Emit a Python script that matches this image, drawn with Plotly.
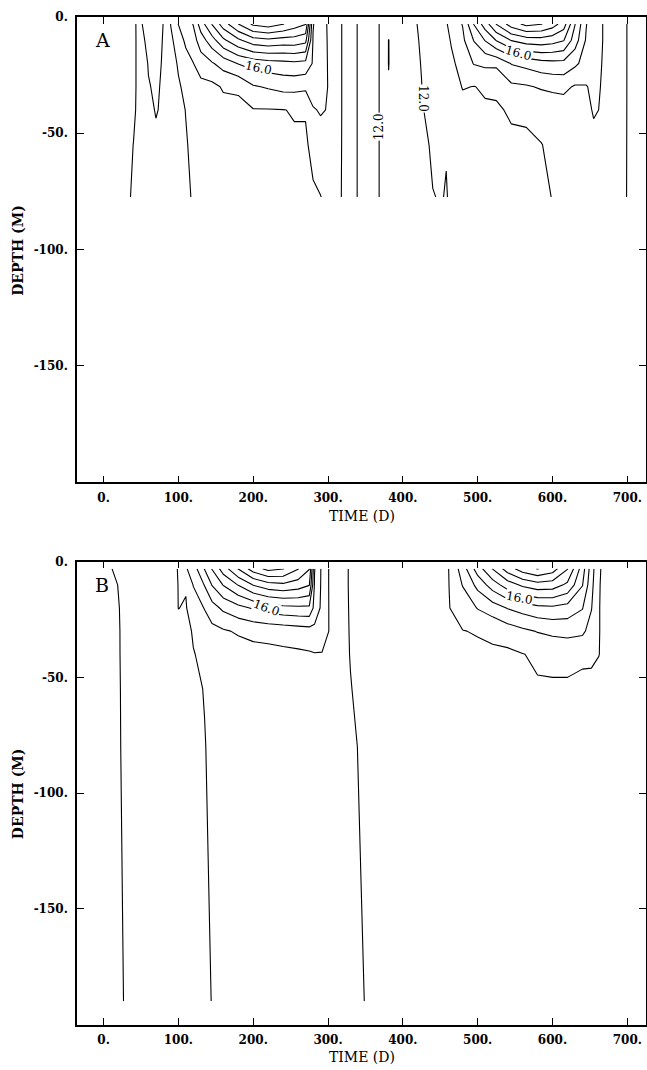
import plotly.graph_objects as go

# ---------------- Panel A data (temperature, deg C) ----------------
depth_a = [-3, -10, -20, -30, -40, -55, -77.5]
days_a = [0, 30, 40, 50, 60, 70, 80, 90, 100, 110,
          120, 130, 145, 160, 180, 200, 220, 240, 255, 270,
          280, 290, 300, 310, 320, 340, 360, 375, 381, 390,
          410, 425, 440, 452, 458, 465, 480, 495, 510, 525,
          545, 565, 585, 600, 615, 630, 645, 655, 665, 680,
          700, 720]
a_t03 = [13.6, 13.5, 13.45, 12.03, 11.85, 11.8, 12.01, 13.05, 14.02, 14.5,
         15.05, 16.5, 18.05, 19.5, 21.0, 22.2, 22.5, 22.05, 21.5, 21.05,
         16.05, 15.5, 14.9, 14.5, 13.9, 12.95, 12.25, 11.8, 11.5, 11.75,
         11.85, 12.1, 12.6, 12.8, 12.9, 13.4, 14.05, 16.05, 17.5, 19.05,
         20.5, 21.3, 21.05, 20.5, 19.5, 17.05, 15.05, 14.4, 14.05, 13.7,
         12.98, 12.6]
a_t10 = [13.6, 13.5, 13.4, 12.2, 11.8, 11.85, 12.026, 12.8, 13.5, 14.2,
         14.6, 15.5, 16.6, 17.8, 18.8, 19.6, 19.8, 19.6, 19.6, 19.3,
         15.95, 15.5, 14.93, 14.5, 13.9, 12.95, 12.25, 11.8, 10.97, 11.75,
         11.85, 12.05, 12.5, 12.6, 12.7, 13.1, 13.8, 15.05, 16.05, 17.05,
         18.05, 18.5, 18.6, 18.4, 18.05, 16.5, 14.9, 14.35, 14.05, 13.7,
         12.98, 12.6]
a_t20 = [13.6, 13.5, 13.35, 12.3, 11.967, 11.9, 12.04, 12.6, 13.1, 13.6,
         13.98, 14.5, 14.9, 15.4, 16.05, 16.4, 16.6, 16.7, 16.8, 16.7,
         15.9, 15.45, 14.96, 14.5, 13.9, 12.95, 12.25, 11.8, 10.96, 11.75,
         11.8, 12.02, 12.4, 12.45, 12.5, 12.8, 13.4, 14.05, 14.2, 14.2,
         15.05, 15.3, 15.6, 15.7, 15.7, 15.2, 14.6, 14.3, 14.02, 13.68,
         12.98, 12.6]
a_t30 = [13.6, 13.5, 13.3, 12.4, 12.03, 11.93, 12.07, 12.5, 12.9, 13.2,
         13.5, 13.7, 13.75, 14.1, 14.15, 14.9, 15.1, 15.3, 15.3, 15.2,
         15.6, 15.4, 14.98, 14.5, 13.9, 12.95, 12.25, 11.8, 11.1, 11.75,
         11.75, 11.99, 12.3, 12.3, 12.35, 12.55, 13.05, 12.98, 13.1, 13.15,
         13.8, 13.9, 14.1, 14.2, 14.25, 13.9, 13.95, 14.2, 13.98, 13.65,
         12.98, 12.6]
a_t40 = [13.6, 13.45, 13.2, 12.5, 12.1, 11.975, 12.06, 12.45, 12.8, 13.02,
         13.3, 13.45, 13.55, 13.7, 13.75, 13.95, 13.95, 13.98, 14.05, 14.05,
         14.9, 15.1, 14.95, 14.5, 13.9, 12.95, 12.25, 11.8, 11.5, 11.75,
         11.7, 11.95, 12.2, 12.2, 12.22, 12.4, 12.7, 12.85, 12.9, 12.9,
         13.1, 13.1, 13.3, 13.4, 13.5, 13.6, 13.7, 14.1, 13.95, 13.6,
         12.98, 12.6]
a_t55 = [13.6, 13.4, 12.98, 12.6, 12.15, 12.08, 12.3, 12.45, 12.7, 12.95,
         13.15, 13.3, 13.45, 13.55, 13.65, 13.7, 13.8, 13.9, 13.9, 13.9,
         14.2, 14.5, 14.6, 14.45, 13.9, 12.95, 12.25, 11.8, 11.6, 11.75,
         11.65, 11.9, 12.05, 12.08, 12.03, 12.2, 12.4, 12.6, 12.7, 12.75,
         12.85, 12.9, 12.98, 13.15, 13.3, 13.4, 13.5, 13.7, 13.7, 13.5,
         12.98, 12.6]
a_t77 = [13.6, 13.3, 12.8, 12.6, 12.3, 12.3, 12.4, 12.5, 12.75, 12.9,
         13.05, 13.2, 13.35, 13.45, 13.55, 13.6, 13.65, 13.75, 13.8, 13.8,
         13.9, 13.98, 14.2, 14.35, 13.9, 12.95, 12.25, 11.8, 11.7, 11.75,
         11.6, 11.85, 11.99, 12.02, 11.97, 12.1, 12.3, 12.45, 12.55, 12.6,
         12.7, 12.8, 12.85, 13.02, 13.15, 13.25, 13.35, 13.45, 13.5, 13.4,
         12.98, 12.6]

# ---------------- Panel B data (temperature, deg C) ----------------
depth_b = [-3, -10, -20, -30, -40, -55, -80, -190]
days_b = [0, 10, 20, 30, 60, 90, 100, 110, 120, 135,
          145, 160, 180, 200, 220, 240, 260, 275, 282, 292,
          302, 315, 330, 345, 360, 400, 440, 450, 462, 480,
          500, 520, 540, 560, 580, 600, 620, 640, 652, 662,
          675, 700, 720]
b_t03 = [13.3, 13.03, 12.8, 12.7, 12.5, 12.7, 13.05, 13.9, 14.5, 16.05,
         17.05, 18.5, 20.05, 21.5, 22.3, 22.05, 21.05, 20.05, 16.05, 14.8,
         13.9, 13.2, 12.95, 12.8, 12.7, 12.4, 12.5, 12.7, 13.02, 14.5,
         16.5, 18.05, 19.5, 20.5, 21.05, 20.5, 19.05, 16.5, 14.5, 13.05,
         12.8, 12.6, 12.5]
b_t10 = [13.3, 13.15, 12.98, 12.8, 12.5, 12.65, 13.02, 13.05, 14.05, 15.05,
         16.05, 17.05, 18.05, 19.05, 19.6, 19.8, 19.5, 19.05, 15.9, 14.8,
         13.9, 13.2, 12.95, 12.8, 12.7, 12.4, 12.5, 12.6, 13.01, 14.05,
         15.3, 16.5, 17.5, 18.2, 18.6, 18.5, 17.8, 16.05, 14.3, 13.03,
         12.8, 12.6, 12.5]
b_t20 = [13.3, 13.18, 13.02, 12.85, 12.5, 12.6, 13.01, 12.95, 13.4, 14.05,
         14.6, 15.2, 15.7, 16.1, 16.5, 16.7, 16.8, 16.8, 15.7, 14.75,
         13.92, 13.2, 12.96, 12.8, 12.7, 12.4, 12.5, 12.55, 12.98, 13.4,
         14.05, 14.5, 15.05, 15.4, 15.7, 15.8, 15.6, 15.05, 14.05, 13.02,
         12.8, 12.6, 12.5]
b_t30 = [13.3, 13.18, 13.03, 12.87, 12.5, 12.55, 12.8, 12.85, 13.05, 13.4,
         13.7, 13.9, 14.1, 14.25, 14.3, 14.4, 14.5, 14.6, 14.7, 14.5,
         13.95, 13.2, 12.97, 12.82, 12.7, 12.4, 12.5, 12.5, 12.9, 12.98,
         13.05, 13.2, 13.5, 13.8, 14.05, 14.2, 14.3, 14.2, 13.6, 13.02,
         12.8, 12.6, 12.5]
b_t40 = [13.3, 13.18, 13.03, 12.88, 12.5, 12.5, 12.7, 12.8, 12.98, 13.1,
         13.3, 13.5, 13.6, 13.7, 13.75, 13.8, 13.85, 13.9, 13.95, 13.95,
         13.9, 13.22, 12.98, 12.84, 12.72, 12.4, 12.5, 12.5, 12.8, 12.85,
         12.85, 12.85, 12.8, 12.97, 13.15, 13.3, 13.3, 13.15, 13.1, 13.01,
         12.8, 12.6, 12.5]
b_t55 = [13.3, 13.18, 13.04, 12.88, 12.5, 12.5, 12.65, 12.75, 12.9, 13.02,
         13.1, 13.2, 13.35, 13.45, 13.55, 13.6, 13.65, 13.7, 13.75, 13.75,
         13.7, 13.25, 13.02, 12.87, 12.75, 12.4, 12.5, 12.5, 12.7, 12.75,
         12.8, 12.8, 12.8, 12.85, 12.9, 12.85, 12.85, 12.8, 12.85, 12.85,
         12.78, 12.6, 12.5]
b_t80 = [13.3, 13.18, 13.05, 12.88, 12.5, 12.5, 12.6, 12.7, 12.8, 12.98,
         13.1, 13.15, 13.2, 13.3, 13.35, 13.4, 13.45, 13.5, 13.55, 13.6,
         13.6, 13.3, 13.08, 12.95, 12.8, 12.4, 12.5, 12.5, 12.65, 12.7,
         12.72, 12.74, 12.76, 12.78, 12.8, 12.82, 12.82, 12.8, 12.8, 12.8,
         12.76, 12.6, 12.5]
b_t190 = [13.3, 13.2, 13.1, 12.95, 12.5, 12.5, 12.55, 12.6, 12.65, 12.85,
          13.02, 13.1, 13.15, 13.2, 13.25, 13.3, 13.35, 13.4, 13.42, 13.45,
          13.5, 13.4, 13.2, 13.03, 12.9, 12.4, 12.5, 12.5, 12.6, 12.62,
          12.64, 12.66, 12.68, 12.7, 12.72, 12.74, 12.75, 12.75, 12.75, 12.75,
          12.74, 12.6, 12.5]

x_tickvals = [0, 100, 200, 300, 400, 500, 600, 700]
x_ticktext = ["0.", "100.", "200.", "300.", "400.", "500.", "600.", "700."]
y_tickvals = [0, -50, -100, -150]
y_ticktext = ["0.", "-50.", "-100.", "-150."]

# contour labels as drawn in the figure: (text, day, depth, angle)
labels_a = [("12.0", 368, -47, -90), ("12.0", 426, -35, 90),
            ("16.0", 207, -22, 12), ("16.0", 554, -15.5, 15)]
labels_b = [("16.0", 218, -20, 20), ("16.0", 556, -15.5, 10)]

temp_a = [a_t03, a_t10, a_t20, a_t30, a_t40, a_t55, a_t77]
temp_b = [b_t03, b_t10, b_t20, b_t30, b_t40, b_t55, b_t80, b_t190]

SERIF = "DejaVu Serif"
BLACK = [[0, "black"], [1, "black"]]

fig = go.Figure()


def add_contours(x, y, z, xa, ya):
    fig.add_trace(go.Contour(
        x=x, y=y, z=z, xaxis=xa, yaxis=ya,
        autocontour=False,
        contours=dict(start=11, end=23, size=1, coloring="lines", showlabels=False),
        colorscale=BLACK, showscale=False,
        line=dict(width=1.1, smoothing=0),
        hoverinfo="skip",
    ))


add_contours(days_a, depth_a, temp_a, "x", "y")
add_contours(days_b, depth_b, temp_b, "x2", "y2")

axis_common = dict(showline=True, linecolor="black", linewidth=1.5, mirror="ticks",
                   ticks="inside", ticklen=7, tickwidth=1.2, tickcolor="black",
                   showgrid=False, zeroline=False, automargin=False,
                   tickfont=dict(family=SERIF, size=12, color="black", weight="bold"))

xcommon = dict(axis_common, range=[-35.5, 725], tickvals=x_tickvals, ticktext=x_ticktext,
               ticklabelstandoff=3)
ycommon = dict(axis_common, range=[-200.3, 0], tickvals=y_tickvals, ticktext=y_ticktext,
               ticklabelstandoff=5)

annotations = []
for xr, yr, labs in (("x", "y", labels_a), ("x2", "y2", labels_b)):
    for text, day, dep, ang in labs:
        annotations.append(dict(text=text, x=day, y=dep, xref=xr, yref=yr, showarrow=False,
                                textangle=ang, bgcolor="white", borderpad=0,
                                font=dict(family=SERIF, size=12, color="black")))
# panel letters
annotations += [
    dict(text="A", x=-2, y=-10, xref="x", yref="y", showarrow=False,
         font=dict(family=SERIF, size=19, color="black")),
    dict(text="B", x=-2, y=-10, xref="x2", yref="y2", showarrow=False,
         font=dict(family=SERIF, size=19, color="black")),
]
# axis titles
for ty in (0.505, -0.032):
    annotations.append(dict(text="TIME (D)", x=0.5, y=ty, xref="paper", yref="paper",
                            showarrow=False, xanchor="center", yanchor="middle",
                            font=dict(family=SERIF, size=14, color="black")))
for ty in (0.769, 0.230):
    annotations.append(dict(text="DEPTH (M)", x=-0.1037, y=ty, xref="paper", yref="paper",
                            showarrow=False, textangle=-90, xanchor="center", yanchor="middle",
                            font=dict(family=SERIF, size=14, color="black", weight="bold")))

fig.update_layout(
    width=647, height=1070,
    margin=dict(l=77, r=1, t=17, b=45),
    paper_bgcolor="white", plot_bgcolor="white",
    showlegend=False,
    xaxis=dict(xcommon, domain=[0, 1], anchor="y"),
    yaxis=dict(ycommon, domain=[0.5382, 1.0], anchor="x"),
    xaxis2=dict(xcommon, domain=[0, 1], anchor="y2"),
    yaxis2=dict(ycommon, domain=[0.0, 0.4596], anchor="x2"),
    annotations=annotations,
)

fig.write_html("out.html", config={"displayModeBar": False},
               post_script="document.body.style.margin='0px';document.body.style.padding='0px';")
